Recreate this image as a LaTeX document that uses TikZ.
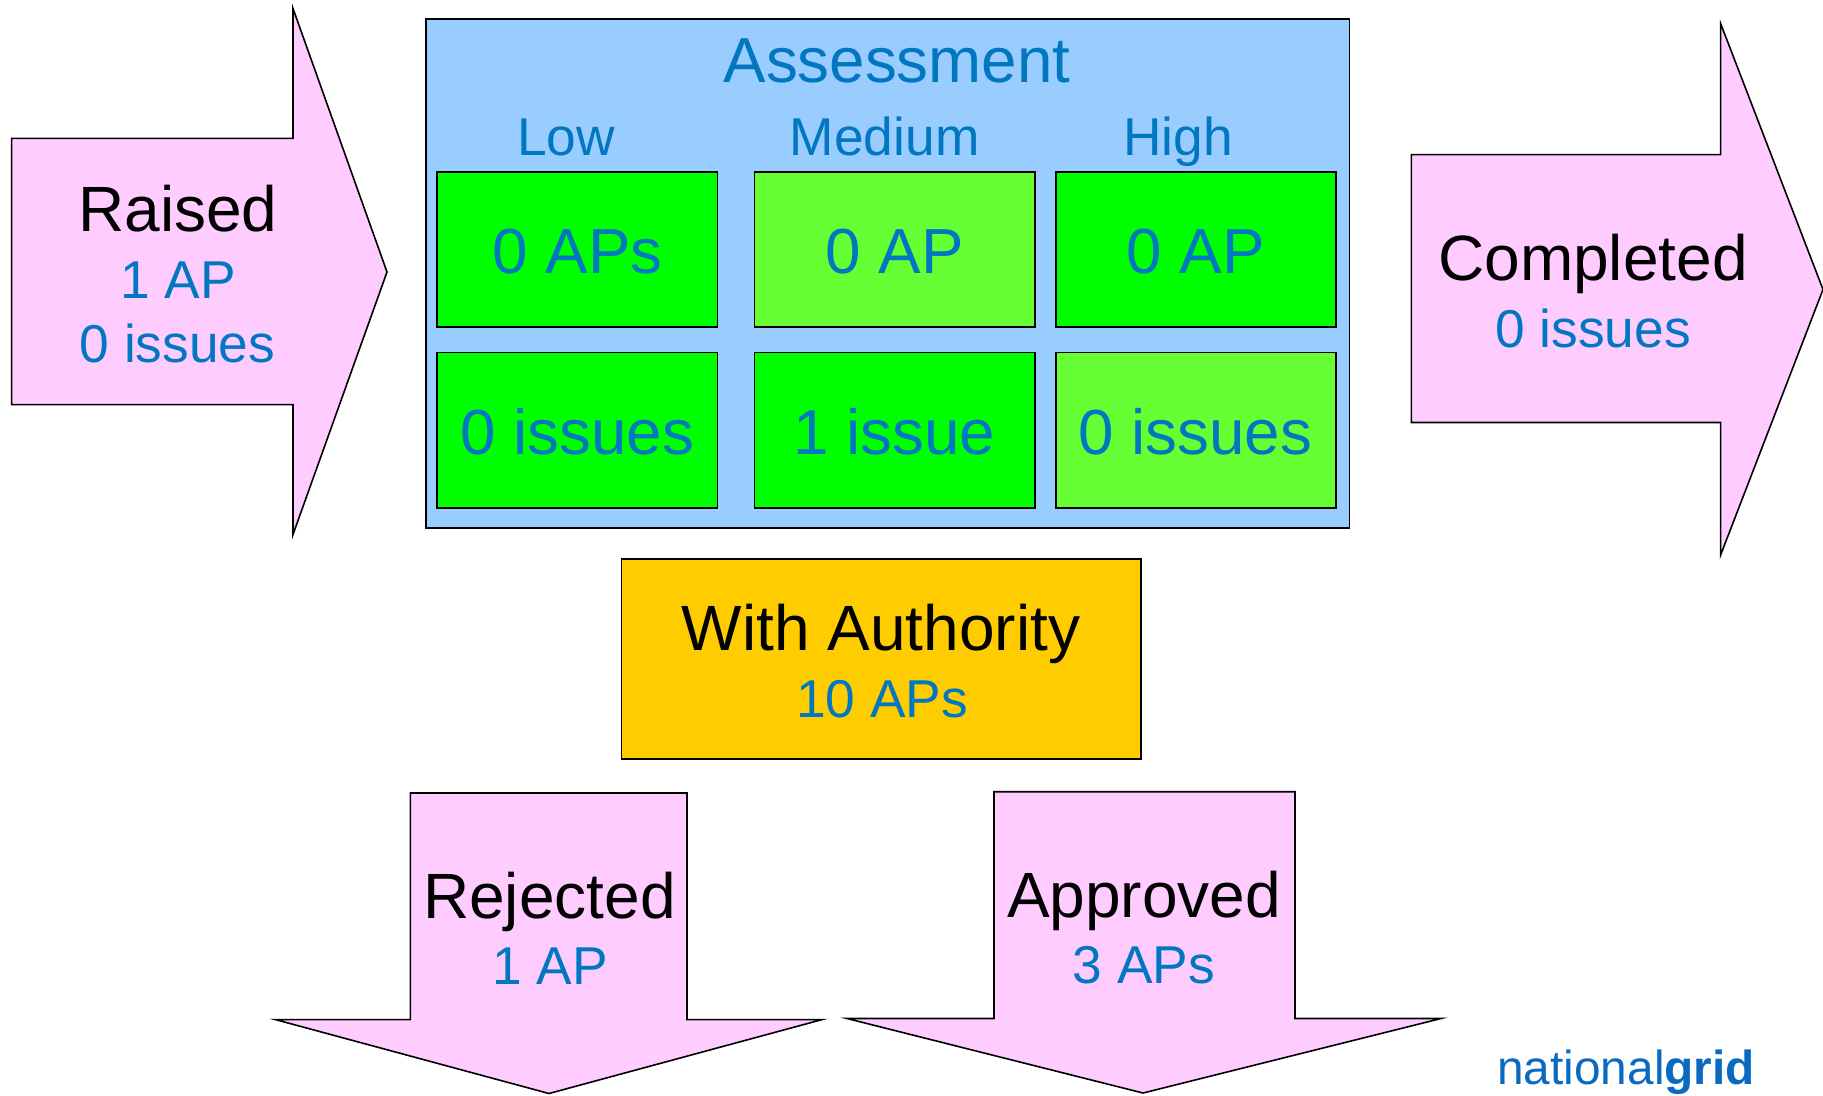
\documentclass[tikz,border=0pt]{standalone}
\usepackage{fontspec}
\setmainfont{Liberation Sans}
\definecolor{txtblue}{HTML}{0077C0}
\definecolor{panelblue}{HTML}{99CCFF}
\definecolor{brightgreen}{HTML}{00FF00}
\definecolor{limegreen}{HTML}{66FF33}
\definecolor{amber}{HTML}{FFCC00}
\definecolor{pinkfill}{HTML}{FFCCFF}
\definecolor{logoblue}{HTML}{0A6AC0}
\newcommand{\fs}[1]{\fontsize{#1}{#1}\selectfont}
\tikzset{
  outline/.style={draw=black,line width=1.6pt,line join=miter,miter limit=20},
  arrowshape/.style={outline,fill=pinkfill},
  cell/.style={outline,fill=#1},
  big/.style={anchor=base,text=black,font=\fs{64},inner sep=0pt},
  sub/.style={anchor=base,text=txtblue,font=\fs{53.3},inner sep=0pt},
  celltxt/.style={anchor=base,text=txtblue,font=\fs{63.7},inner sep=0pt}
}
\begin{document}
\begin{tikzpicture}[x=1pt,y=-1pt]
\useasboundingbox (0,0) rectangle (1823,1095);
% arrows
\draw[arrowshape] (11.6,138.4) -- (293,138.4) -- (293,8.5) -- (387,272) -- (293,534.5) -- (293,404.6) -- (11.6,404.6) -- cycle;
\draw[arrowshape] (1411.4,154.6) -- (1720.6,154.6) -- (1720.6,23.5) -- (1823,289.5) -- (1720.6,555) -- (1720.6,422.5) -- (1411.4,422.5) -- cycle;
\draw[arrowshape] (410.4,793) -- (687,793) -- (687,1019.6) -- (822,1019.6) -- (549,1093.5) -- (275.5,1019.6) -- (410.4,1019.6) -- cycle;
\draw[arrowshape] (994,791.7) -- (1295,791.7) -- (1295,1018.5) -- (1441,1018.5) -- (1143,1093) -- (847,1018.5) -- (994,1018.5) -- cycle;
% assessment panel
\draw[cell=panelblue] (426,19) rectangle (1349.5,528);
\draw[cell=brightgreen] (437,172) rectangle (717.5,327);
\draw[cell=limegreen] (754.5,172) rectangle (1035,327);
\draw[cell=brightgreen] (1056,172) rectangle (1336,327);
\draw[cell=brightgreen] (437,352.5) rectangle (717.5,508);
\draw[cell=brightgreen] (754.5,352.5) rectangle (1035,508);
\draw[cell=limegreen] (1056,352.5) rectangle (1336,508);
\draw[cell=amber] (621.5,559) rectangle (1141,759);
% texts
\node[celltxt] (assess) at (897,82.7) {Assessment};
\node[sub] (low) at (566,155) {Low};
\node[sub] (med) at (884.7,155) {Medium};
\node[sub] (high) at (1178,155) {High};
\node[celltxt] (c1) at (577.5,273) {0 APs};
\node[celltxt] (c2) at (894.5,273) {0 AP};
\node[celltxt] (c3) at (1195.5,273) {0 AP};
\node[celltxt] (c4) at (577.5,454) {0 issues};
\node[celltxt] (c5) at (894.5,454) {1 issue};
\node[celltxt] (c6) at (1195.5,454) {0 issues};
\node[big] (raised) at (178,231) {Raised};
\node[sub] (raised1) at (178,298) {1 AP};
\node[sub] (raised2) at (177.5,362.5) {0 issues};
\node[big] (completed) at (1593,280.5) {Completed};
\node[sub] (completed1) at (1593,347.5) {0 issues};
\node[big] (authority) at (881,650) {With Authority};
\node[sub] (authority1) at (882,717.5) {10 APs};
\node[big] (rejected) at (549.5,918) {Rejected};
\node[sub] (rejected1) at (550,984) {1 AP};
\node[big] (approved) at (1144,917) {Approved};
\node[sub] (approved1) at (1144,983.5) {3 APs};
\node[anchor=base west,inner sep=0pt,text=logoblue,font=\fs{47.8}] (logo) at (1497,1084.5) {national\textbf{grid}};
\end{tikzpicture}
\end{document}
